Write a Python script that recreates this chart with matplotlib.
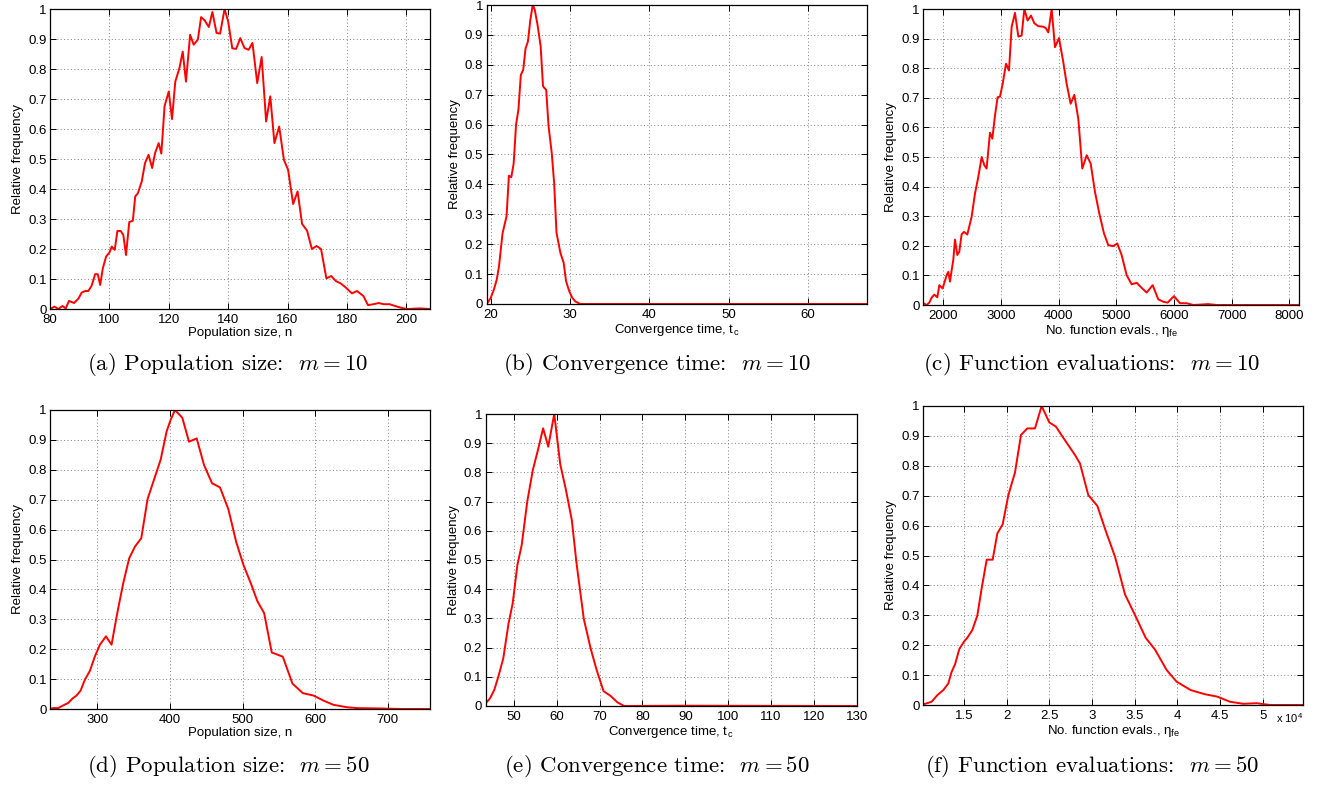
#import libraries
import matplotlib
matplotlib.use('Agg')
import matplotlib.pyplot as plt
from matplotlib.ticker import MultipleLocator, FuncFormatter

plt.rcParams['font.family'] = ['Liberation Sans', 'DejaVu Sans']
plt.rcParams['mathtext.fontset'] = 'cm'

#(a) population size, m = 10
pop10_x = [80, 81.5, 82.8, 84.2, 85.3, 86.4, 88.1, 89.6, 90.7, 91.9, 92.9, 94, 95.2, 96.1, 96.9,
           97.8, 98.9, 100.0, 100.8, 101.8, 102.7, 103.8, 104.7, 105.6, 106.7, 107.9, 108.7,
           109.6, 110.9, 112, 113.2, 114.4, 115.4, 116.6, 117.5, 118.6, 120, 121.1, 122.2,
           123.6, 124.7, 125.8, 127.2, 128.4, 129.8, 130.9, 132.1, 133.5, 134.7, 136.1, 137.3,
           138.8, 140, 141.4, 142.7, 144.1, 145.5, 146.9, 148.2, 149.8, 151.3, 152.8, 154.2,
           155.6, 157.2, 158.8, 160.2, 161.9, 163.4, 164.9, 166.6, 168.2, 169.8, 171.3, 173.1,
           174.7, 176.3, 177.8, 179.6, 181.7, 183.4, 185.6, 187.1, 189, 190.7, 192.4, 194.4,
           196.9, 199.1, 200.8, 204.2, 208]
pop10_y = [0, 0.008, 0, 0.01, 0.002, 0.027, 0.02, 0.035, 0.055, 0.06, 0.06, 0.077, 0.116, 0.116,
           0.08, 0.136, 0.175, 0.188, 0.208, 0.197, 0.26, 0.26, 0.247, 0.18, 0.29, 0.294, 0.375,
           0.386, 0.425, 0.486, 0.514, 0.47, 0.52, 0.553, 0.518, 0.677, 0.725, 0.633, 0.758,
           0.803, 0.858, 0.758, 0.914, 0.881, 0.898, 0.973, 0.962, 0.94, 0.99, 0.92, 0.918, 1.0,
           0.959, 0.869, 0.867, 0.903, 0.87, 0.864, 0.887, 0.753, 0.84, 0.625, 0.709, 0.553,
           0.608, 0.497, 0.464, 0.35, 0.392, 0.284, 0.261, 0.2, 0.21, 0.2, 0.102, 0.11, 0.093,
           0.086, 0.072, 0.052, 0.06, 0.043, 0.013, 0.016, 0.02, 0.016, 0.016, 0.008, 0.002, 0,
           0.002, 0]

#(b) convergence time, m = 10
conv10_x = [19.5, 20, 20.4, 20.76, 21.05, 21.5, 22.0, 22.3, 22.6, 22.9, 23.2, 23.5, 23.8, 24.1,
            24.4, 24.7, 25.0, 25.3, 25.55, 25.9, 26.3, 26.6, 27.0, 27.3, 27.7, 28.0, 28.3, 28.8,
            29.2, 29.5, 29.9, 30.3, 30.7, 31.3, 67.4]
conv10_y = [0, 0.02, 0.048, 0.081, 0.126, 0.237, 0.293, 0.429, 0.424, 0.47, 0.6, 0.65, 0.766,
            0.783, 0.855, 0.878, 0.95, 1.0, 0.985, 0.935, 0.862, 0.728, 0.716, 0.594, 0.505,
            0.405, 0.238, 0.17, 0.138, 0.077, 0.043, 0.02, 0.008, 0, 0]

#(c) function evaluations, m = 10
fe10_x = [1653, 1711, 1757, 1798, 1844, 1896, 1931, 1988, 2058, 2087, 2116, 2145, 2173, 2202,
          2243, 2277, 2318, 2358, 2416, 2491, 2549, 2607, 2665, 2711, 2751, 2809, 2850, 2896,
          2942, 2983, 3029, 3087, 3139, 3185, 3243, 3301, 3358, 3405, 3462, 3520, 3578, 3647,
          3734, 3775, 3821, 3879, 3936, 4006, 4081, 4139, 4208, 4272, 4341, 4410, 4486, 4555,
          4630, 4705, 4786, 4861, 4948, 5017, 5092, 5179, 5266, 5353, 5439, 5526, 5630, 5728,
          5815, 5890, 6000, 6104, 6220, 6335, 6595, 6740, 8156, 8185]
fe10_y = [0.006, 0, 0.008, 0.025, 0.035, 0.026, 0.067, 0.056, 0.101, 0.112, 0.079, 0.118, 0.152,
          0.221, 0.169, 0.18, 0.239, 0.247, 0.238, 0.298, 0.376, 0.433, 0.5, 0.472, 0.461, 0.582,
          0.562, 0.64, 0.702, 0.704, 0.747, 0.815, 0.792, 0.94, 0.987, 0.907, 0.91, 1.0, 0.961,
          0.978, 0.952, 0.942, 0.94, 0.936, 0.921, 1.0, 0.871, 0.902, 0.82, 0.747, 0.68, 0.71,
          0.629, 0.461, 0.506, 0.478, 0.382, 0.309, 0.242, 0.202, 0.199, 0.208, 0.169, 0.101,
          0.07, 0.075, 0.058, 0.042, 0.067, 0.019, 0.011, 0.008, 0.03, 0.006, 0.006, 0, 0.003,
          0, 0, 0.003]

#(d) population size, m = 50
pop50_x = [234.8, 239.4, 246.3, 253.2, 260, 266, 271.5, 277, 283, 290, 296.8, 303.7, 312, 319.7,
           327.6, 335.8, 344, 351.9, 360.6, 369.3, 378, 387.2, 395.5, 401, 407, 417.1, 426.3,
           436.9, 447, 458, 469, 480.5, 491.1, 501.2, 511.3, 520.5, 529.7, 540.2, 555.4, 568.7,
           583, 597.7, 611.5, 625.1, 643.5, 657.3, 684.9, 717, 758.4]
pop50_y = [0, 0.003, 0.003, 0.012, 0.02, 0.035, 0.045, 0.061, 0.098, 0.128, 0.176, 0.215, 0.243,
           0.215, 0.321, 0.421, 0.504, 0.543, 0.571, 0.702, 0.766, 0.833, 0.928, 0.967, 1.0,
           0.974, 0.894, 0.905, 0.816, 0.755, 0.741, 0.668, 0.56, 0.482, 0.421, 0.36, 0.321,
           0.189, 0.175, 0.085, 0.053, 0.045, 0.028, 0.014, 0.006, 0.003, 0.002, 0, 0]

#(e) convergence time, m = 50
conv50_x = [43.4, 44.4, 45.4, 46.4, 47.5, 48.7, 49.7, 50.8, 51.8, 53.1, 54.4, 55.6, 56.8, 58.0,
            59.4, 60.8, 62.1, 63.5, 64.6, 66.3, 67.9, 69.3, 70.9, 72.6, 74.1, 75.7, 89.5, 130]
conv50_y = [0.009, 0.026, 0.055, 0.103, 0.163, 0.28, 0.352, 0.483, 0.551, 0.7, 0.808, 0.877,
            0.951, 0.888, 1.0, 0.828, 0.742, 0.637, 0.489, 0.298, 0.197, 0.123, 0.051, 0.034,
            0.013, 0, 0.001, 0]

#(f) function evaluations, m = 50
fe50_x = [10230, 11210, 11880, 12580, 13160, 13550, 13950, 14450, 15000, 15390, 15980, 16560,
          17070, 17660, 18360, 18910, 19530, 20200, 20980, 21680, 22420, 23320, 24100, 25000,
          25780, 26560, 27420, 28010, 28590, 29570, 30630, 31640, 32700, 33870, 35040, 36290,
          37420, 38750, 39920, 41560, 43240, 44690, 46170, 47730, 49300, 50860, 54770]
fe50_y = [0.002, 0.011, 0.033, 0.05, 0.072, 0.111, 0.136, 0.187, 0.212, 0.225, 0.251, 0.299,
          0.39, 0.486, 0.486, 0.574, 0.604, 0.702, 0.778, 0.903, 0.925, 0.925, 1.0, 0.945,
          0.931, 0.897, 0.861, 0.836, 0.808, 0.702, 0.666, 0.58, 0.496, 0.37, 0.301, 0.225,
          0.184, 0.117, 0.078, 0.05, 0.036, 0.028, 0.011, 0.004, 0.006, 0, 0]

W, H = 1317, 785


#This function draws one histogram panel
def panel(fig, box, x, y, xlim, xstep, xlabel, caption, cap_x, cap_y, xfmt=None):

        #axes from pixel box (left, top, right, bottom)
        l, t, r, b = box
        ax = fig.add_axes([l / W, 1 - b / H, (r - l) / W, (b - t) / H])

        #plot the curve
        ax.plot(x, y, color='#ff0000', linewidth=1.4)

        #limits and ticks
        ax.set_xlim(xlim)
        ax.set_ylim(0, 1)
        ax.xaxis.set_major_locator(MultipleLocator(xstep))
        ax.yaxis.set_major_locator(MultipleLocator(0.1))
        ax.yaxis.set_major_formatter(FuncFormatter(lambda v, p: '%g' % round(v, 2)))
        if xfmt is not None:
                ax.xaxis.set_major_formatter(xfmt)
        ax.tick_params(direction='in', top=True, right=True, length=4, width=0.7,
                       labelsize=9.5)
        ax.tick_params(axis='x', pad=3.5)
        ax.tick_params(axis='y', pad=2.5)

        #dotted grid like matlab
        ax.grid(True, linestyle=(0, (1, 2.5)), color='0.5', linewidth=0.7)
        for s in ax.spines.values():
                s.set_linewidth(0.9)

        #labels
        ax.set_ylabel('Relative frequency', fontsize=9.5, labelpad=3)
        ax.set_xlabel(xlabel, fontsize=9.5, labelpad=1)

        #sub caption
        fig.text(cap_x / W, 1 - cap_y / H, caption, family='cmr10', fontsize=16.5,
                 ha='center', va='center')
        return ax
#END


#set figure size
fig = plt.figure(figsize=(W / 100, H / 100), dpi=100)

panel(fig, (50, 9, 430, 309), pop10_x, pop10_y, (80, 208), 20,
      'Population size, n', '(a) Population size:  $m = 10$', 228, 365)
panel(fig, (486.7, 5, 866.7, 304), conv10_x, conv10_y, (19.5, 67.4), 10,
      'Convergence time, t$_\\mathregular{c}$', '(b) Convergence time:  $m = 10$', 657, 365)
panel(fig, (923.3, 9, 1299.3, 305), fe10_x, fe10_y, (1653, 8173), 1000,
      'No. function evals., $\\mathregular{\\eta_{fe}}$', '(c) Function evaluations:  $m = 10$', 1092, 365)

panel(fig, (50, 410, 430, 709), pop50_x, pop50_y, (235, 758), 100,
      'Population size, n', '(d) Population size:  $m = 50$', 228, 767)
panel(fig, (485.7, 414, 856.7, 706), conv50_x, conv50_y, (43.4, 130), 10,
      'Convergence time, t$_\\mathregular{c}$', '(e) Convergence time:  $m = 50$', 657, 767)
ax6 = panel(fig, (923.3, 406, 1303.3, 705), fe50_x, fe50_y, (10230, 54770), 5000,
            'No. function evals., $\\mathregular{\\eta_{fe}}$', '(f) Function evaluations:  $m = 50$',
            1092, 767, xfmt=FuncFormatter(lambda v, p: '%g' % (v / 1e4)))

#scale factor for the last panel
ax6.text(1.0, -0.045, 'x 10$^\\mathregular{4}$', transform=ax6.transAxes,
         fontsize=8, ha='right', va='center')

#save figure
fig.savefig('out.png', dpi=100)
